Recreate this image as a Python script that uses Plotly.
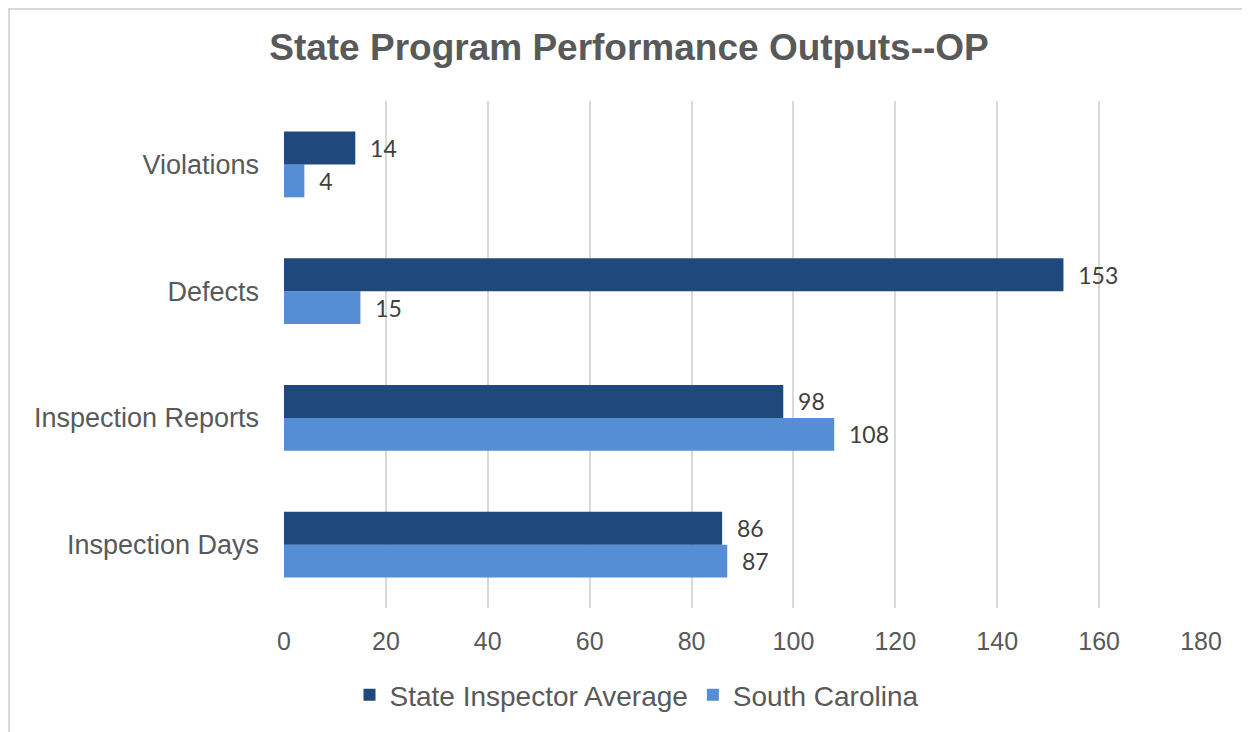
import plotly.graph_objects as go

categories = ["Violations", "Defects", "Inspection Reports", "Inspection Days"]
state_avg = [14, 153, 98, 86]
south_carolina = [4, 15, 108, 87]
x_ticks = [0, 20, 40, 60, 80, 100, 120, 140, 160, 180]

DARK = "#1F497D"
LIGHT = "#558ED5"
GRID = "#D9D9D9"
TXT = "#595959"

W, H = 1242, 724  # page body has an 8px margin

fig = go.Figure()
fig.add_trace(go.Bar(
    name="South Carolina", y=categories, x=south_carolina, orientation="h",
    marker=dict(color=LIGHT, line=dict(width=0)),
    texttemplate="\u00a0\u00a0%{x}", textposition="outside",
    textfont=dict(family="Lato", size=23, color="#404040"), cliponaxis=False,
))
fig.add_trace(go.Bar(
    name="State Inspector Average", y=categories, x=state_avg, orientation="h",
    marker=dict(color=DARK, line=dict(width=0)),
    texttemplate="\u00a0\u00a0%{x}", textposition="outside",
    textfont=dict(family="Lato", size=23, color="#404040"), cliponaxis=False,
))

fig.update_layout(
    width=W, height=H,
    margin=dict(l=276, r=49, t=93, b=124),
    paper_bgcolor="white", plot_bgcolor="white",
    barmode="group", bargap=0.48, bargroupgap=0,
    title=dict(text="<b>State Program Performance Outputs--OP</b>",
               x=(629 - 8) / W, xref="container", xanchor="center",
               y=1 - 39 / H, yref="container", yanchor="middle",
               font=dict(family="Liberation Sans", size=37, color=TXT)),
    font=dict(family="Liberation Sans", color=TXT),
    xaxis=dict(range=[0, 180], tickvals=x_ticks, showgrid=True, gridcolor=GRID,
               gridwidth=2, zeroline=False, showline=False, ticks="",
               tickfont=dict(size=25, color=TXT), ticklabelstandoff=16),
    yaxis=dict(categoryorder="array", categoryarray=categories[::-1],
               showgrid=False, zeroline=False, showline=False, ticks="",
               tickfont=dict(size=27, color=TXT), ticklabelstandoff=24),
    legend=dict(orientation="h", traceorder="reversed",
                x=(637 - 8) / W, xref="container", xanchor="center",
                y=1 - 687 / H, yref="container", yanchor="middle",
                font=dict(size=28, color=TXT), itemwidth=30),
    showlegend=True,
    shapes=[dict(type="rect", xref="paper", yref="paper",
                 x0=(1 - 276) / 917, x1=(1270 - 276) / 917,
                 y0=(600 - 760) / 507, y1=(600 - 1) / 507,
                 line=dict(color=GRID, width=2), layer="below")],
)

fig.write_html("out.html")
